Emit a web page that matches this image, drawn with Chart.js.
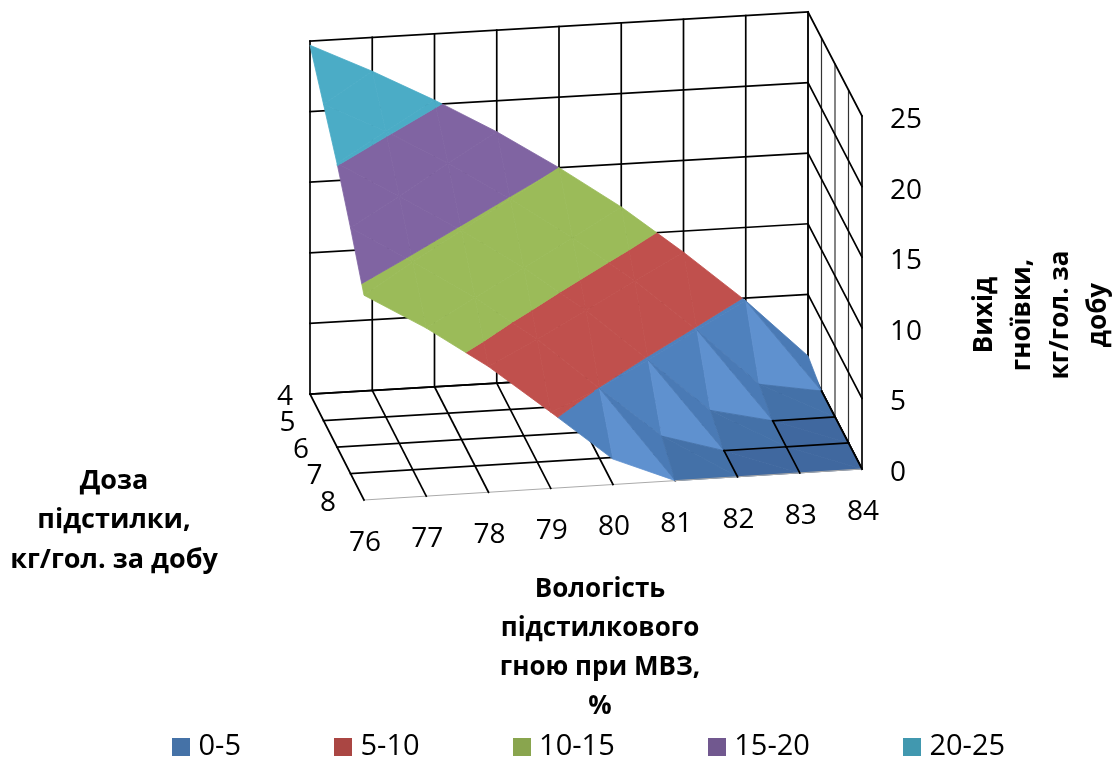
<!DOCTYPE html>
<html>
<head>
<meta charset="utf-8">
<style>html,body{margin:0;padding:0;background:#fff}canvas{display:block}</style>
<script src="https://cdn.jsdelivr.net/npm/chart.js@4"></script>
</head>
<body>
<canvas id="c" width="1116" height="758"></canvas>
<script>
// ---- data ----
const moisture = [76, 77, 78, 79, 80, 81, 82, 83, 84];
const dose = [4, 5, 6, 7, 8];
const zTicks = [0, 5, 10, 15, 20, 25];
const dose4 = [24.7, 22.6, 20.3, 17.8, 15.0, 11.96, 8.5, 4.8, 0.64];
const dose5 = [22.4, 20.2, 17.7, 14.9, 11.9, 8.6, 4.84, 0.74, 0];
const dose6 = [20.1, 17.5, 14.8, 11.9, 8.6, 4.83, 1.0, 0, 0];
const dose7 = [17.4, 14.7, 11.9, 8.7, 4.95, 1.3, 0, 0, 0];
const dose8 = [14.5, 11.9, 8.9, 5.4, 1.8, 0, 0, 0, 0];
const bandNames = ['0-5', '5-10', '10-15', '15-20', '20-25'];
const bandLow = [0, 5, 10, 15, 20];
const bandHigh = [5, 10, 15, 20, 25];
const titleDose = ['Доза', 'підстилки,', 'кг/гол. за добу'];
const titleMoisture = ['Вологість', 'підстилкового', 'гною при МВЗ,', '%'];
const titleOutput = ['Вихід', 'гноївки,', 'кг/гол. за', 'добу'];

// ---- styles ----
const bandColors = ['#4f81bd', '#c0504d', '#9bbb59', '#8064a2', '#4bacc6'];
const legendColors = ['#4572a7', '#aa4643', '#89a54e', '#71588f', '#4198af'];
const blueLight = '#5f91cf', blueShade = '#4a7ab5', blueDark = '#4471a8', blueFlat = '#40689f';
const FONT = '"Open Sans", "Noto Sans", sans-serif';
const rows = [dose4, dose5, dose6, dose7, dose8];

// ---- oblique projection of the 3D box ----
const corner = { bl: [310, 394], br: [808, 365], fl: [364, 500], fr: [862, 469] };
const zScale = 14.12;
function project(m, d, z) {
  const u = (m - moisture[0]) / (moisture[moisture.length - 1] - moisture[0]);
  const v = (d - dose[0]) / (dose[dose.length - 1] - dose[0]);
  const lerp = (a, b, t) => a + (b - a) * t;
  const bx = lerp(corner.bl[0], corner.br[0], u), by = lerp(corner.bl[1], corner.br[1], u);
  const fx = lerp(corner.fl[0], corner.fr[0], u), fy = lerp(corner.fl[1], corner.fr[1], u);
  return { x: lerp(bx, fx, v), y: lerp(by, fy, v) - z * zScale };
}

// ---- clip a surface triangle to a value band ----
function clip(poly, limit, keepAbove) {
  const out = [];
  const inside = p => keepAbove ? p[2] >= limit : p[2] <= limit;
  for (let i = 0; i < poly.length; i++) {
    const a = poly[i], b = poly[(i + 1) % poly.length];
    if (inside(a)) out.push(a);
    if (inside(a) !== inside(b)) {
      const t = (limit - a[2]) / (b[2] - a[2]);
      out.push([a[0] + (b[0] - a[0]) * t, a[1] + (b[1] - a[1]) * t, limit]);
    }
  }
  return out;
}

function facetColor(band, sd, sm) {
  if (band > 0) return bandColors[band];
  if (sd === 0 && sm === 0) return blueFlat;
  if (sd + sm < 2) return blueDark;
  if (sd > sm * 1.3 && sm < 2.5) return blueLight;
  if (sd < sm * 0.6) return blueShade;
  return bandColors[0];
}

const surface = [];
function addTriangle(tri, sd, sm) {
  bandLow.forEach((lo, b) => {
    let poly = clip(tri, lo, true);
    if (poly.length) poly = clip(poly, bandHigh[b], false);
    if (poly.length < 3) return;
    const zs = poly.map(p => p[2]);
    if (Math.max(...zs) === Math.min(...zs) && b > 0) return;
    const col = facetColor(b, sd, sm);
    const pts = poly.map(p => project(p[1], p[0], p[2]));
    pts.push(pts[0]);
    surface.push({ data: pts, showLine: true, fill: 'shape', backgroundColor: col, borderColor: col,
      borderWidth: 0.8, pointRadius: 0, tension: 0 });
  });
}
for (let i = 0; i < dose.length - 1; i++) {
  for (let j = 0; j < moisture.length - 1; j++) {
    const d0 = dose[i], d1 = dose[i + 1], m0 = moisture[j], m1 = moisture[j + 1];
    const a = rows[i][j], b = rows[i][j + 1], c = rows[i + 1][j], e = rows[i + 1][j + 1];
    if (e === 0) {
      addTriangle([[d0, m0, a], [d1, m0, c], [d1, m1, e]], a - c, c - e);
      addTriangle([[d0, m0, a], [d0, m1, b], [d1, m1, e]], b - e, a - b);
    } else {
      addTriangle([[d0, m0, a], [d0, m1, b], [d1, m0, c]], a - c, a - b);
      addTriangle([[d0, m1, b], [d1, m0, c], [d1, m1, e]], b - e, c - e);
    }
  }
}

// ---- grid lines ----
function seg(p, q, color, width) {
  return { data: [p, q], showLine: true, fill: false, borderColor: color, borderWidth: width,
    pointRadius: 0, tension: 0, borderCapStyle: 'square' };
}
const BLACK = '#000', LW = 1.7;
const M0 = moisture[0], M1 = moisture[moisture.length - 1], D0 = dose[0], D1 = dose[dose.length - 1], ZT = zTicks[zTicks.length - 1];
const grid = [];
moisture.forEach(m => {
  grid.push(seg(project(m, D0, 0), project(m, D0, ZT), BLACK, LW));
  grid.push(seg(project(m, D0, 0), project(m, D1, 0), BLACK, LW));
});
zTicks.forEach(z => {
  grid.push(seg(project(M0, D0, z), project(M1, D0, z), BLACK, LW));
  grid.push(seg(project(M1, D0, z), project(M1, D1, z), BLACK, LW));
});
dose.forEach((d, i) => {
  const last = i === dose.length - 1;
  grid.push(seg(project(M1, d, 0), project(M1, d, ZT), last ? BLACK : '#333', last ? LW : 1.2));
  grid.push(seg(project(M0, d, 0), project(M1, d, 0), last ? '#aaa' : BLACK, last ? 1 : LW));
});

// floor lines stay visible where the surface lies on the floor
const floorTop = [];
dose.forEach((d, i) => moisture.forEach((m, j) => {
  if (rows[i][j] !== 0) return;
  const last = i === dose.length - 1;
  if (j + 1 < moisture.length && rows[i][j + 1] === 0)
    floorTop.push(seg(project(m, d, 0), project(moisture[j + 1], d, 0), last ? '#aaa' : BLACK, last ? 1 : LW));
  if (i + 1 < dose.length && rows[i + 1][j] === 0)
    floorTop.push(seg(project(m, d, 0), project(m, dose[i + 1], 0), BLACK, LW));
}));

// Chart.js paints the last dataset first
const datasets = [...floorTop, ...surface.slice().reverse(), ...grid];

// solid legend swatches, used as the legend's point style
function swatch(color) {
  const s = document.createElement('canvas');
  s.width = 18; s.height = 18;
  const g = s.getContext('2d');
  g.fillStyle = color;
  g.fillRect(0, 0, 18, 18);
  return s;
}

const textPlugin = {
  id: 'labels3d',
  afterLayout(chart) {
    const lg = chart.legend;
    const pad = lg.options.labels.padding;
    lg.left = 178 - pad; lg.right = 1500; lg.top = 732 - pad; lg.bottom = 758;
  },
  afterDraw(chart) {
    const ctx = chart.ctx;
    ctx.save();
    ctx.fillStyle = '#000';
    ctx.textBaseline = 'middle';
    ctx.font = '28px ' + FONT;
    ctx.textAlign = 'left';
    zTicks.forEach(z => {
      const p = project(M1, D1, z);
      ctx.fillText(String(z), p.x + 28, p.y + 4);
    });
    ctx.textAlign = 'center';
    dose.forEach((d, i) => {
      const p = project(M0, d, 0);
      ctx.fillText(String(d), p.x - (i === 0 ? 25 : 36), p.y + 3);
    });
    moisture.forEach(m => {
      const p = project(m, D1, 0);
      ctx.fillText(String(m), p.x + 1, p.y + 43);
    });
    ctx.font = 'bold 27px ' + FONT;
    titleDose.forEach((t, i) => ctx.fillText(t, 114, 481 + i * 39.5));
    ctx.font = 'bold 26px ' + FONT;
    titleMoisture.forEach((t, i) => ctx.fillText(t, 600, 590 + i * 39));
    titleOutput.forEach((t, i) => {
      ctx.save();
      ctx.translate(985 + i * 38, 315);
      ctx.rotate(-Math.PI / 2);
      ctx.fillText(t, 0, 0);
      ctx.restore();
    });
    ctx.restore();
  }
};

new Chart(document.getElementById('c'), {
  type: 'scatter',
  data: { datasets },
  plugins: [textPlugin],
  options: {
    responsive: false,
    animation: false,
    layout: { padding: 0 },
    scales: {
      x: { type: 'linear', display: false, min: 0, max: 1116 },
      y: { type: 'linear', display: false, min: 0, max: 731, reverse: true }
    },
    plugins: {
      tooltip: { enabled: false },
      title: { display: false },
      legend: {
        position: 'bottom',
        align: 'start',
        maxHeight: 27,
        labels: {
          usePointStyle: true, pointStyleWidth: 6, boxHeight: 18, padding: 99, color: '#000',
          font: { family: FONT, size: 29 },
          generateLabels: () => bandNames.map((n, i) => ({
            text: n, fillStyle: legendColors[i], strokeStyle: legendColors[i], lineWidth: 0,
            hidden: false, datasetIndex: i, pointStyle: swatch(legendColors[i])
          }))
        }
      }
    }
  }
});
</script>
</body>
</html>
